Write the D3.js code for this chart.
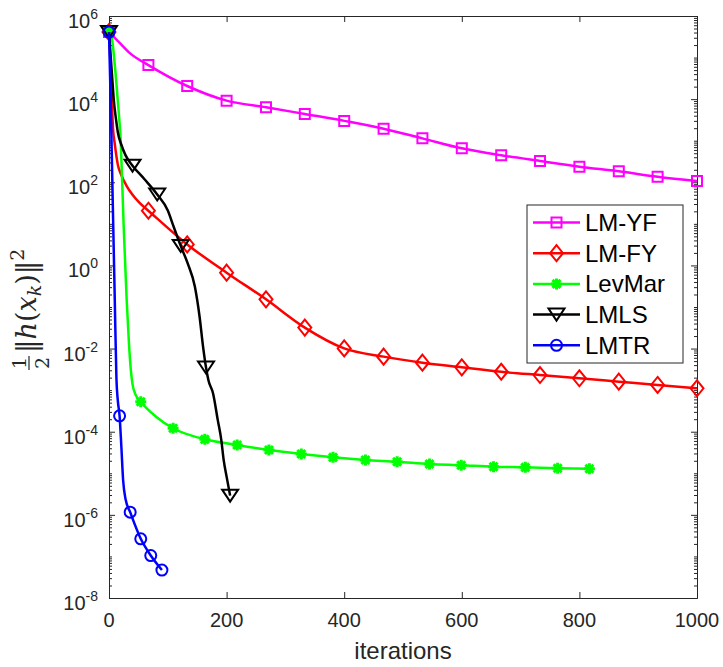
<!DOCTYPE html>
<html lang="en">
<head>
<meta charset="UTF-8">
<title>Convergence of LM methods</title>
<script src="https://d3js.org/d3.v7.min.js"></script>
<style>
    body { margin: 0; background: #fff; }
    svg { display: block; background: #fff; }
    .axis path, .axis line { stroke: #262626; stroke-width: 1; }
    .tick-label { font-family: "Liberation Sans", Arial, sans-serif; font-size: 20px; fill: #262626; }
    .legend-text { font-family: "Liberation Sans", Arial, sans-serif; font-size: 24px; fill: #000; }
</style>
</head>
<body>
<svg width="723" height="667"></svg>
<script>
// values: iteration number and 0.5*||h(x_k)||^2
const yfIter = [0, 19, 36, 67, 133, 200, 267, 333, 400, 467, 533, 600, 667, 733, 800, 867, 933, 1000];
const yfVal  = [4.1e5, 2.2e5, 1.26e5, 6.6e4, 2.07e4, 9.2e3, 6.4e3, 4.4e3, 3.0e3, 1.95e3, 1.14e3, 656, 446, 325, 237, 184, 136, 107];
const yfMarks = [0, 67, 133, 200, 267, 333, 400, 467, 533, 600, 667, 733, 800, 867, 933, 1000];

const fyIter = [0, 3, 6.8, 10, 15.4, 20, 29.6, 40, 52, 67, 133, 200, 267, 333, 400, 467, 533, 600, 667, 733, 800, 867, 933, 1000];
const fyVal  = [4.1e5, 5e4, 2e3, 800, 250, 160, 83, 50, 32, 20.7, 3.2, 0.67, 0.153, 0.032, 0.0101, 0.0064, 0.00457, 0.00354, 0.00277, 0.00231, 0.00193, 0.0016, 0.00133, 0.00111];
const fyMarks = [0, 67, 133, 200, 267, 333, 400, 467, 533, 600, 667, 733, 800, 867, 933, 1000];

const lvIter = [0, 5, 10, 15, 20, 25, 30, 34, 37, 40, 45, 54, 80, 109, 163, 218, 272, 327, 381, 436, 490, 545, 599, 654, 708, 763, 817];
const lvVal  = [4.1e5, 2.8e5, 6.3e4, 8.9e3, 930, 8.3, 0.155, 0.0129, 3.2e-3, 1.4e-3, 7.9e-4, 5.27e-4, 2.3e-4, 1.21e-4, 6.56e-5, 4.79e-5, 3.63e-5, 2.91e-5, 2.42e-5, 2.09e-5, 1.9e-5, 1.67e-5, 1.56e-5, 1.44e-5, 1.39e-5, 1.32e-5, 1.29e-5];
const lvMarks = [0, 54, 109, 163, 218, 272, 327, 381, 436, 490, 545, 599, 654, 708, 763, 817];

const lsIter = [0, 3, 6, 8, 12, 15, 21, 28, 40, 60, 82, 100, 110, 122, 134, 146, 154, 160, 165, 169, 177, 185, 191, 195, 200, 206];
const lsVal  = [4.1e5, 1e5, 2.5e4, 1e4, 3.2e3, 1.6e3, 800, 450, 251, 120, 51, 21, 8.5, 2.95, 1.1, 0.31, 0.059, 0.011, 3.5e-3, 1.75e-3, 8.3e-4, 1.9e-4, 6.3e-5, 2.1e-5, 8.3e-6, 2.9e-6];
const lsMarks = [0, 40, 82, 122, 165, 206];

const trIter = [0, 3, 6.3, 9.7, 12.6, 15, 18, 21, 24, 28.4, 36, 54, 71, 90];
const trVal  = [4.1e5, 7.6e3, 37, 0.18, 1.95e-3, 5.6e-4, 2.41e-4, 4.4e-5, 6.9e-6, 2.3e-6, 1.16e-6, 2.65e-7, 1.05e-7, 4.7e-8];
const trMarks = [0, 18, 36, 54, 71, 90];

const seriesNames   = ["LM-YF", "LM-FY", "LevMar", "LMLS", "LMTR"];
const seriesColors  = ["#ff00ff", "#ff0000", "#00ff00", "#000000", "#0000ff"];
const seriesMarkers = ["square", "diamond", "asterisk", "triangle", "circle"];

const xTicks = [0, 200, 400, 600, 800, 1000];
const yExps  = [-8, -6, -4, -2, 0, 2, 4, 6];

const rawSeries = [
    [yfIter, yfVal, yfMarks],
    [fyIter, fyVal, fyMarks],
    [lvIter, lvVal, lvMarks],
    [lsIter, lsVal, lsMarks],
    [trIter, trVal, trMarks]
];
const series = rawSeries.map((s, i) => ({
    name: seriesNames[i],
    color: seriesColors[i],
    marker: seriesMarkers[i],
    points: s[0].map((it, j) => ({ it: it, v: s[1][j] })),
    marks: s[2].map(m => ({ it: m, v: s[1][s[0].indexOf(m)] }))
}));

const svg = d3.select("svg");
const plotL = 109, plotR = 697, plotT = 16, plotB = 598;

const x = d3.scaleLinear().domain([0, 1000]).range([plotL, plotR]);
const y = d3.scaleLog().domain([1e-8, 1e6]).range([plotB, plotT]);

// minor log ticks
const yMajor = yExps.map(e => Math.pow(10, e));
const yMinor = [];
for (let e = -8; e < 6; e++) {
    for (let k = 1; k <= 9; k++) {
        if (k === 1 && e % 2 === 0) continue;
        yMinor.push(k * Math.pow(10, e));
    }
}

// axes (box with inward ticks on all sides)
svg.append("g").attr("class", "axis")
    .attr("transform", `translate(0,${plotB})`)
    .call(d3.axisBottom(x).tickValues(xTicks).tickSizeInner(-6).tickSizeOuter(0).tickFormat(""));
svg.append("g").attr("class", "axis")
    .attr("transform", `translate(0,${plotT})`)
    .call(d3.axisTop(x).tickValues(xTicks).tickSizeInner(-6).tickSizeOuter(0).tickFormat(""));
svg.append("g").attr("class", "axis")
    .attr("transform", `translate(${plotL},0)`)
    .call(d3.axisLeft(y).tickValues(yMajor).tickSizeInner(-6).tickSizeOuter(0).tickFormat(""));
svg.append("g").attr("class", "axis")
    .attr("transform", `translate(${plotL},0)`)
    .call(d3.axisLeft(y).tickValues(yMinor).tickSizeInner(-3).tickSizeOuter(0).tickFormat(""));
svg.append("g").attr("class", "axis")
    .attr("transform", `translate(${plotR},0)`)
    .call(d3.axisRight(y).tickValues(yMajor).tickSizeInner(-6).tickSizeOuter(0).tickFormat(""));
svg.append("g").attr("class", "axis")
    .attr("transform", `translate(${plotR},0)`)
    .call(d3.axisRight(y).tickValues(yMinor).tickSizeInner(-3).tickSizeOuter(0).tickFormat(""));

// tick labels
svg.append("g").selectAll("text")
    .data(xTicks)
    .enter().append("text")
    .attr("class", "tick-label")
    .attr("x", d => x(d))
    .attr("y", plotB + 29)
    .attr("text-anchor", "middle")
    .text(d => d);

const yl = svg.append("g").selectAll("text")
    .data(yExps)
    .enter().append("text")
    .attr("class", "tick-label")
    .attr("x", plotL - 11)
    .attr("y", d => y(Math.pow(10, d)) + 12)
    .attr("text-anchor", "end");
yl.append("tspan").text("10");
yl.append("tspan").attr("dy", -9).attr("font-size", "14px").text(d => d < 0 ? "-" + (-d) : d);

// axis titles
svg.append("text")
    .attr("class", "tick-label")
    .attr("x", (plotL + plotR) / 2)
    .attr("y", 659)
    .attr("text-anchor", "middle")
    .style("font-size", "24px")
    .text("iterations");

// y title: 1/2 ||h(x_k)||^2, rotated
const ylab = svg.append("g")
    .attr("transform", "translate(36,307) rotate(-90)")
    .attr("fill", "#262626")
    .style("font-family", "'DejaVu Serif', 'Liberation Serif', serif");
ylab.append("text").attr("x", -56).attr("y", -10).attr("text-anchor", "middle").attr("font-size", "19px").text("1");
ylab.append("line").attr("x1", -63).attr("x2", -49).attr("y1", -7).attr("y2", -7).attr("stroke", "#262626").attr("stroke-width", 1.2);
ylab.append("text").attr("x", -56).attr("y", 13).attr("text-anchor", "middle").attr("font-size", "19px").text("2");
const expr = ylab.append("text").attr("x", -46).attr("y", 0).attr("font-size", "27px");
expr.append("tspan").text("\u2016");
expr.append("tspan").attr("font-style", "italic").text("h");
expr.append("tspan").text("(");
expr.append("tspan").attr("font-style", "italic").text("x");
expr.append("tspan").attr("font-style", "italic").attr("font-size", "19px").attr("dy", 5).text("k");
expr.append("tspan").attr("dy", -5).text(")\u2016");
expr.append("tspan").attr("font-size", "19px").attr("dy", -12).text("2");

// markers
function markerShape(sel, type, color) {
    if (type === "circle") {
        sel.append("circle").attr("r", 5.5)
            .attr("fill", "none").attr("stroke", color).attr("stroke-width", 2);
        return;
    }
    const paths = {
        square: "M-5,-5H5V5H-5Z",
        diamond: "M0,-8L6.5,0L0,8L-6.5,0Z",
        triangle: "M-8,-6H8L0,6Z",
        asterisk: "M-5.5,0H5.5M0,-5.5V5.5M-4,-4L4,4M-4,4L4,-4"
    };
    sel.append("path").attr("d", paths[type])
        .attr("fill", "none").attr("stroke", color)
        .attr("stroke-width", type === "asterisk" ? 3 : 2)
        .attr("stroke-linejoin", "miter");
}

const line = d3.line()
    .x(d => x(d.it))
    .y(d => y(d.v))
    .curve(d3.curveMonotoneX);

const plot = svg.append("g");
series.forEach(s => {
    const g = plot.append("g");
    g.append("path")
        .datum(s.points)
        .attr("d", line)
        .attr("fill", "none")
        .attr("stroke", s.color)
        .attr("stroke-width", 2.5);
    g.selectAll("g.mk")
        .data(s.marks)
        .enter().append("g")
        .attr("class", "mk")
        .attr("transform", d => `translate(${x(d.it)},${y(d.v)})`)
        .each(function() { markerShape(d3.select(this), s.marker, s.color); });
});

// legend
const legend = svg.append("g");
legend.append("rect")
    .attr("x", 527).attr("y", 205)
    .attr("width", 156).attr("height", 158)
    .attr("fill", "#fff").attr("stroke", "#262626").attr("stroke-width", 1);
series.forEach((s, i) => {
    const ly = 222.5 + i * 30.7;
    legend.append("line")
        .attr("x1", 533).attr("x2", 580).attr("y1", ly).attr("y2", ly)
        .attr("stroke", s.color).attr("stroke-width", 2.5);
    const mg = legend.append("g").attr("transform", `translate(556.5,${ly})`);
    markerShape(mg, s.marker, s.color);
    legend.append("text")
        .attr("class", "legend-text")
        .attr("x", 585).attr("y", ly + 8.5)
        .text(s.name);
});
</script>
</body>
</html>
